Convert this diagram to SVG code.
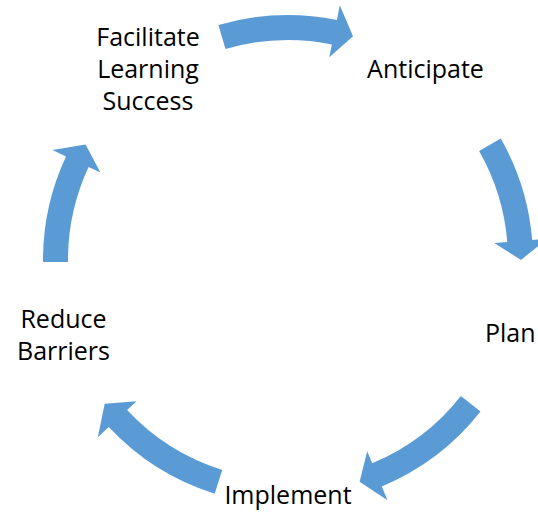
<svg xmlns="http://www.w3.org/2000/svg" width="538" height="512" viewBox="0 0 538 512">
<style>
.arrow{fill:#5B9BD5;stroke:none}
.label{font-family:"Open Sans","Liberation Sans",sans-serif;font-size:25px;fill:#000000}
</style>
<rect width="538" height="512" fill="#ffffff"/>
<g id="connectors">
<path class="arrow" d="M218.4 25.1 A245 245 0 0 1 336.9 19.9 L339.8 5.2 L353.0 36.3 L329.3 57.2 L331.9 44.4 A220 220 0 0 0 225.5 49.1 Z"/>
<path class="arrow" d="M500.8 138.6 A245 245 0 0 1 532.2 239.9 L547.1 238.7 L521 260 L494.3 243.0 L507.3 242.0 A220 220 0 0 0 479.1 151.0 Z"/>
<path class="arrow" d="M480.5 411.5 A245 245 0 0 1 381.8 486.4 L387.5 500.2 L359.6 481.7 L367.2 451.2 L372.2 463.3 A220 220 0 0 0 460.9 396.0 Z"/>
<path class="arrow" d="M214.7 493.8 A245 245 0 0 1 108.8 427.1 L97.8 437.3 L104.7 403.8 L136.6 401.2 L127.1 410.0 A220 220 0 0 0 222.2 469.9 Z"/>
<path class="arrow" d="M43.0 262.1 A245 245 0 0 1 66.0 156.5 L52.4 150.1 L85.6 144.5 L100.4 172.5 L88.6 167.0 A220 220 0 0 0 68.0 261.9 Z"/>
</g>
<g id="node-anticipate">
<text class="label" x="425.5" y="77.6" text-anchor="middle">Anticipate</text>
</g>
<g id="node-plan">
<text class="label" x="485" y="342">Plan</text>
</g>
<g id="node-implement">
<text class="label" x="288" y="503.6" text-anchor="middle">Implement</text>
</g>
<g id="node-reduce-barriers">
<text class="label" x="63.5" y="327.6" text-anchor="middle">Reduce</text>
<text class="label" x="63.5" y="360.3" text-anchor="middle">Barriers</text>
</g>
<g id="node-facilitate">
<text class="label" x="148" y="45.8" text-anchor="middle">Facilitate</text>
<text class="label" x="148" y="77.8" text-anchor="middle">Learning</text>
<text class="label" x="148" y="109.8" text-anchor="middle">Success</text>
</g>
</svg>
